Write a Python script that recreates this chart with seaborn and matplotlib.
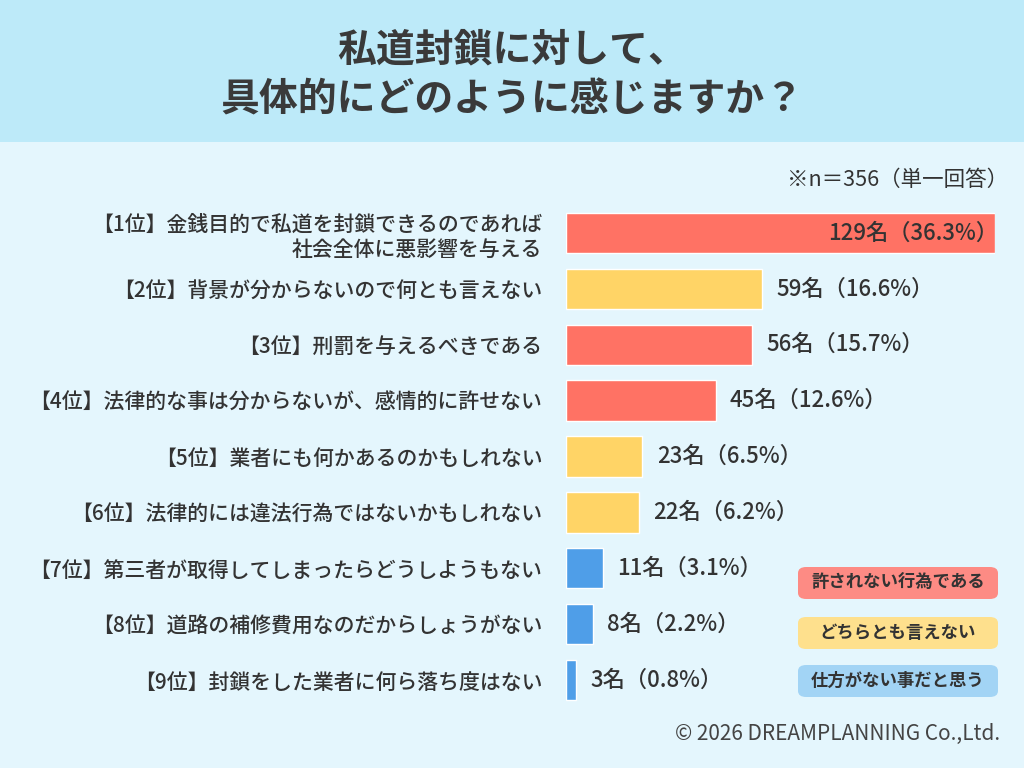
import matplotlib
matplotlib.use("Agg")
import matplotlib.pyplot as plt
from matplotlib.patches import FancyBboxPatch, Rectangle
import seaborn as sns
import pandas as pd

labels = [
    "【1位】金銭目的で私道を封鎖できるのであれば\n社会全体に悪影響を与える",
    "【2位】背景が分からないので何とも言えない",
    "【3位】刑罰を与えるべきである",
    "【4位】法律的な事は分からないが、感情的に許せない",
    "【5位】業者にも何かあるのかもしれない",
    "【6位】法律的には違法行為ではないかもしれない",
    "【7位】第三者が取得してしまったらどうしようもない",
    "【8位】道路の補修費用なのだからしょうがない",
    "【9位】封鎖をした業者に何ら落ち度はない",
]
counts = [129, 59, 56, 45, 23, 22, 11, 8, 3]
percents = [36.3, 16.6, 15.7, 12.6, 6.5, 6.2, 3.1, 2.2, 0.8]
groups = ["許されない行為である", "どちらとも言えない", "許されない行為である",
          "許されない行為である", "どちらとも言えない", "どちらとも言えない",
          "仕方がない事だと思う", "仕方がない事だと思う", "仕方がない事だと思う"]
group_names = ["許されない行為である", "どちらとも言えない", "仕方がない事だと思う"]
bar_colors = {"許されない行為である": "#ff7264", "どちらとも言えない": "#ffd466",
              "仕方がない事だと思う": "#4f9ee8"}
legend_colors = {"許されない行為である": "#fd8b84", "どちらとも言えない": "#fee08d",
                 "仕方がない事だと思う": "#a2d4f5"}
title = "私道封鎖に対して、\n具体的にどのように感じますか？"
note = "※n＝356（単一回答）"
copyright_text = "© 2026 DREAMPLANNING Co.,Ltd."

sns.set_theme(style="white")
plt.rcParams['font.family'] = ['Noto Sans CJK JP', 'DejaVu Sans']

df = pd.DataFrame({"label": labels, "count": counts, "group": groups})

W, H = 1024, 768
fig = plt.figure(figsize=(W / 100, H / 100), dpi=100)
fig.patch.set_facecolor("#e4f6fd")
# header band
fig.patches.append(Rectangle((0, 1 - 142 / H), 1, 142 / H, transform=fig.transFigure,
                             facecolor="#bdeaf9", edgecolor="none", zorder=0))
fig.text(0.5, 1 - 75 / H, title, ha="center", va="center", fontsize=28,
         color="#3a3a3a", fontweight="bold", linespacing=1.35)

ax = fig.add_axes([566 / W, 1 - 708 / H, 429 / W, (708 - 205) / H])
ax.set_facecolor("none")
sns.barplot(data=df, x="count", y="label", hue="group", palette=bar_colors,
            orient="h", width=0.72, dodge=False, legend=False, ax=ax,
            saturation=1)
ax.set_xlim(0, 129)
ax.set_ylim(8.5, -0.5)
ax.set_xlabel("")
ax.set_ylabel("")
ax.set_xticks([])
for s in ax.spines.values():
    s.set_visible(False)
ax.tick_params(axis="y", length=0, pad=17)
ax.set_yticks(range(len(labels)))
ax.set_yticklabels(labels, fontsize=15, color="#333333", ha="right",
                   linespacing=1.2, fontweight="medium")

for i, (c, p) in enumerate(zip(counts, percents)):
    txt = f"{c}名（{p}%）"
    if i == 0:
        ax.text(c + 1, i, txt, ha="right", va="center", fontsize=16, color="#333333",
                fontweight="medium")
    else:
        ax.text(c + 4.3, i, txt, ha="left", va="center", fontsize=16, color="#333333",
                fontweight="medium")

fig.text(1008 / W, 1 - 180 / H, note, ha="right", va="center", fontsize=15.5, color="#333333")
fig.text(1000 / W, 1 - 734 / H, copyright_text, ha="right", va="center", fontsize=15,
         color="#444444")

# legend boxes
centers = [583, 633, 681]
for g, cy in zip(group_names, centers):
    bx, bw, bh = 798, 200, 32
    fig.patches.append(FancyBboxPatch((bx / W, 1 - (cy + bh / 2) / H), bw / W, bh / H,
                                      boxstyle="round,pad=0,rounding_size=0.008",
                                      transform=fig.transFigure, facecolor=legend_colors[g],
                                      edgecolor="none", zorder=1))
    fig.text((bx + bw / 2) / W, 1 - cy / H, g, ha="center", va="center", fontsize=12.5,
             color="#333333", fontweight="bold")

fig.savefig("out.png", dpi=100, facecolor=fig.get_facecolor())
